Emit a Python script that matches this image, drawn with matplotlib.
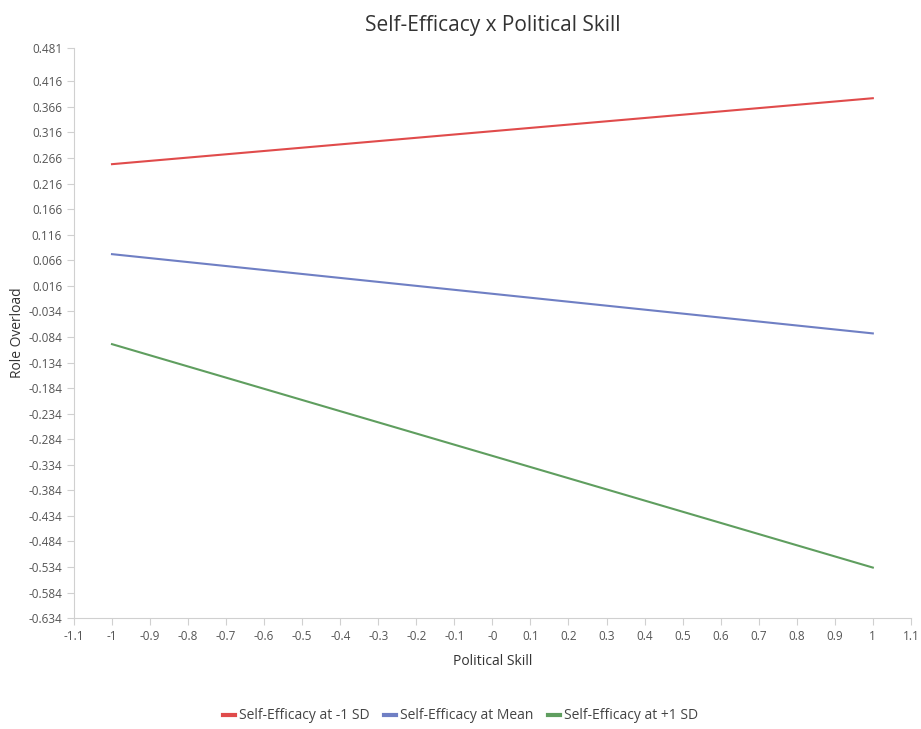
import matplotlib.pyplot as plt

plt.rcParams['font.family'] = ['Open Sans', 'DejaVu Sans']

# dados
x_points = [-1, 1]
series_names = ['Self-Efficacy at -1 SD', 'Self-Efficacy at Mean', 'Self-Efficacy at +1 SD']
low_sd = [0.254, 0.383]
mean = [0.078, -0.077]
high_sd = [-0.098, -0.535]
colors = ['#e04b4b', '#6f7fc4', '#5f9e5f']

x_ticks = [-1.1, -1, -0.9, -0.8, -0.7, -0.6, -0.5, -0.4, -0.3, -0.2, -0.1, 0,
           0.1, 0.2, 0.3, 0.4, 0.5, 0.6, 0.7, 0.8, 0.9, 1, 1.1]
x_labels = ['-1.1', '-1', '-0.9', '-0.8', '-0.7', '-0.6', '-0.5', '-0.4', '-0.3', '-0.2', '-0.1', '-0',
            '0.1', '0.2', '0.3', '0.4', '0.5', '0.6', '0.7', '0.8', '0.9', '1', '1.1']
y_ticks = [-0.634, -0.584, -0.534, -0.484, -0.434, -0.384, -0.334, -0.284, -0.234, -0.184,
           -0.134, -0.084, -0.034, 0.016, 0.066, 0.116, 0.166, 0.216, 0.266, 0.316,
           0.366, 0.416, 0.481]

fig = plt.figure(figsize=(9.21, 7.29), dpi=100)
ax = fig.add_axes([0.0803, 0.152, 0.9087, 0.782])

for vals, name, c in zip([low_sd, mean, high_sd], series_names, colors):
    ax.plot(x_points, vals, color=c, linewidth=1.5, label=name)

ax.set_xlim(-1.1, 1.1)
ax.set_ylim(-0.634, 0.481)
ax.set_xticks(x_ticks)
ax.set_xticklabels(x_labels)
ax.set_yticks(y_ticks)
ax.set_yticklabels([f'{v:.3f}' for v in y_ticks])

for s in ['top', 'right']:
    ax.spines[s].set_visible(False)
for s in ['left', 'bottom']:
    ax.spines[s].set_color('#d0d0d0')
ax.tick_params(colors='#d0d0d0', labelcolor='#555555', labelsize=8.5, length=5)

ax.set_xlabel('Political Skill', fontsize=10, color='#333333', labelpad=8)
ax.set_ylabel('Role Overload', fontsize=10, color='#333333', labelpad=2)
ax.set_title('Self-Efficacy x Political Skill', fontsize=15, color='#333333', pad=12)

leg = fig.legend(loc='center', bbox_to_anchor=(0.5, 0.018), ncol=3, frameon=False,
                 fontsize=10, handlelength=0.9, handletextpad=0.3, columnspacing=1.0,
                 labelcolor='#444444')
for line in leg.get_lines():
    line.set_linewidth(3)

plt.savefig('out.png', dpi=100)
